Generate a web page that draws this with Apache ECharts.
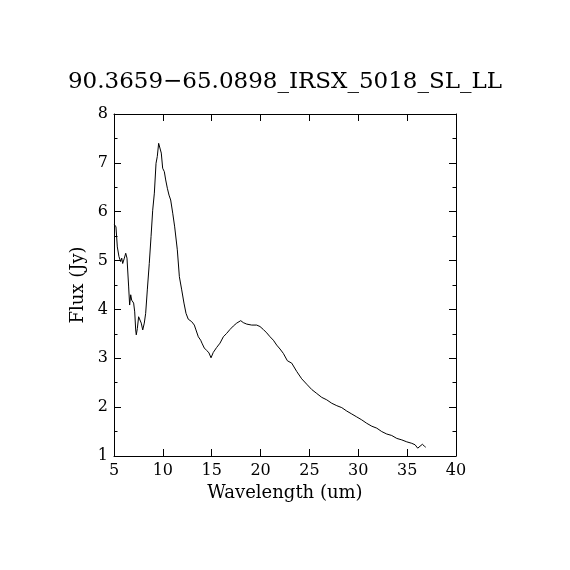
<!DOCTYPE html>
<html><head><meta charset="utf-8">
<script src="https://cdn.jsdelivr.net/npm/echarts@6/dist/echarts.min.js"></script>
<style>html,body{margin:0;padding:0;background:#fff}#c{width:570px;height:570px}</style>
</head><body><div id="c"></div>
<script>
const titleText = "90.3659\u221265.0898_IRSX_5018_SL_LL";
const xName = "Wavelength (um)";
const yName = "Flux (Jy)";
const wavelength = [5.03,5.2,5.34,5.51,5.68,5.79,5.89,6.06,6.2,6.33,6.5,6.6,6.71,6.81,7.01,7.12,7.22,7.28,7.39,7.52,7.66,7.79,7.94,8.1,8.24,8.41,8.61,8.79,8.96,9.13,9.3,9.43,9.57,9.71,9.84,9.98,10.15,10.29,10.46,10.63,10.8,11.01,11.21,11.48,11.69,11.93,12.16,12.37,12.6,12.78,12.95,13.12,13.22,13.39,13.63,13.87,14.0,14.24,14.49,14.72,14.83,14.93,15.16,15.5,15.85,16.19,16.53,16.87,17.21,17.56,17.97,18.23,18.58,19.09,19.6,19.94,20.28,20.63,20.97,21.31,21.65,21.99,22.33,22.74,23.19,23.7,24.21,24.72,25.24,25.75,26.26,26.77,27.28,27.8,28.31,28.82,29.33,29.84,30.35,30.86,31.38,31.89,32.4,32.91,33.42,33.94,34.45,34.96,35.47,35.81,36.08,36.32,36.56,36.77,36.9];
const flux = [5.74,5.69,5.28,5.08,4.98,5.05,4.94,5.05,5.15,5.05,4.46,4.09,4.30,4.19,4.13,3.95,3.58,3.48,3.61,3.85,3.89,3.72,3.58,3.72,3.92,4.40,4.94,5.49,6.03,6.38,6.99,7.13,7.40,7.40,7.20,6.89,6.82,6.65,6.48,6.34,6.24,5.97,5.69,5.22,4.67,4.40,4.13,3.92,3.80,3.76,3.75,3.72,3.68,3.58,3.44,3.37,3.31,3.21,3.16,3.11,3.12,3.01,3.12,3.22,3.31,3.44,3.51,3.59,3.66,3.72,3.77,3.73,3.70,3.68,3.68,3.65,3.59,3.52,3.44,3.37,3.27,3.19,3.10,2.95,2.90,2.73,2.58,2.47,2.36,2.28,2.20,2.15,2.08,2.03,1.99,1.92,1.86,1.80,1.74,1.67,1.61,1.57,1.50,1.45,1.42,1.36,1.33,1.29,1.26,1.23,1.16,1.20,1.24,1.20,1.18];

const font = "DejaVu Serif";
const data = wavelength.map((w, i) => [w, flux[i]]);
const chart = echarts.init(document.getElementById('c'));
const lineStyle = {color: '#000', width: 1};
const xBase = {type: 'value', min: 5, max: 40, interval: 5,
  axisLine: {show: true, onZero: false, lineStyle},
  axisTick: {show: true, inside: true, length: 7, lineStyle},
  splitLine: {show: false}};
const yBase = {type: 'value', min: 1, max: 8, interval: 1,
  axisLine: {show: true, onZero: false, lineStyle},
  axisTick: {show: true, inside: true, length: 7, lineStyle},
  minorTick: {show: true, splitNumber: 2, length: 3.5, lineStyle},
  splitLine: {show: false}};
chart.setOption({
  animation: false,
  backgroundColor: '#fff',
  title: {text: titleText, left: 'center', top: 66,
    textStyle: {fontFamily: font, fontSize: 23, fontWeight: 'normal', color: '#000'}},
  grid: {left: 114, right: 114, top: 114, bottom: 114, containLabel: false},
  xAxis: [
    Object.assign({}, xBase, {position: 'bottom', name: xName, nameLocation: 'middle', nameGap: 26,
      nameTextStyle: {fontFamily: font, fontSize: 18, color: '#000', verticalAlign: 'top'},
      axisLabel: {show: true, margin: 7, fontFamily: font, fontSize: 16, color: '#000'}}),
    Object.assign({}, xBase, {position: 'top', axisLabel: {show: false}})
  ],
  yAxis: [
    Object.assign({}, yBase, {position: 'left', name: yName, nameLocation: 'middle', nameGap: 22,
      nameTextStyle: {fontFamily: font, fontSize: 18, color: '#000'},
      axisLabel: {show: true, margin: 6, fontFamily: font, fontSize: 16, color: '#000'}}),
    Object.assign({}, yBase, {position: 'right', axisLabel: {show: false}})
  ],
  series: [{type: 'line', data: data, showSymbol: false, symbol: 'none',
    lineStyle: {color: '#000', width: 1}, xAxisIndex: 0, yAxisIndex: 0}]
});
</script></body></html>
